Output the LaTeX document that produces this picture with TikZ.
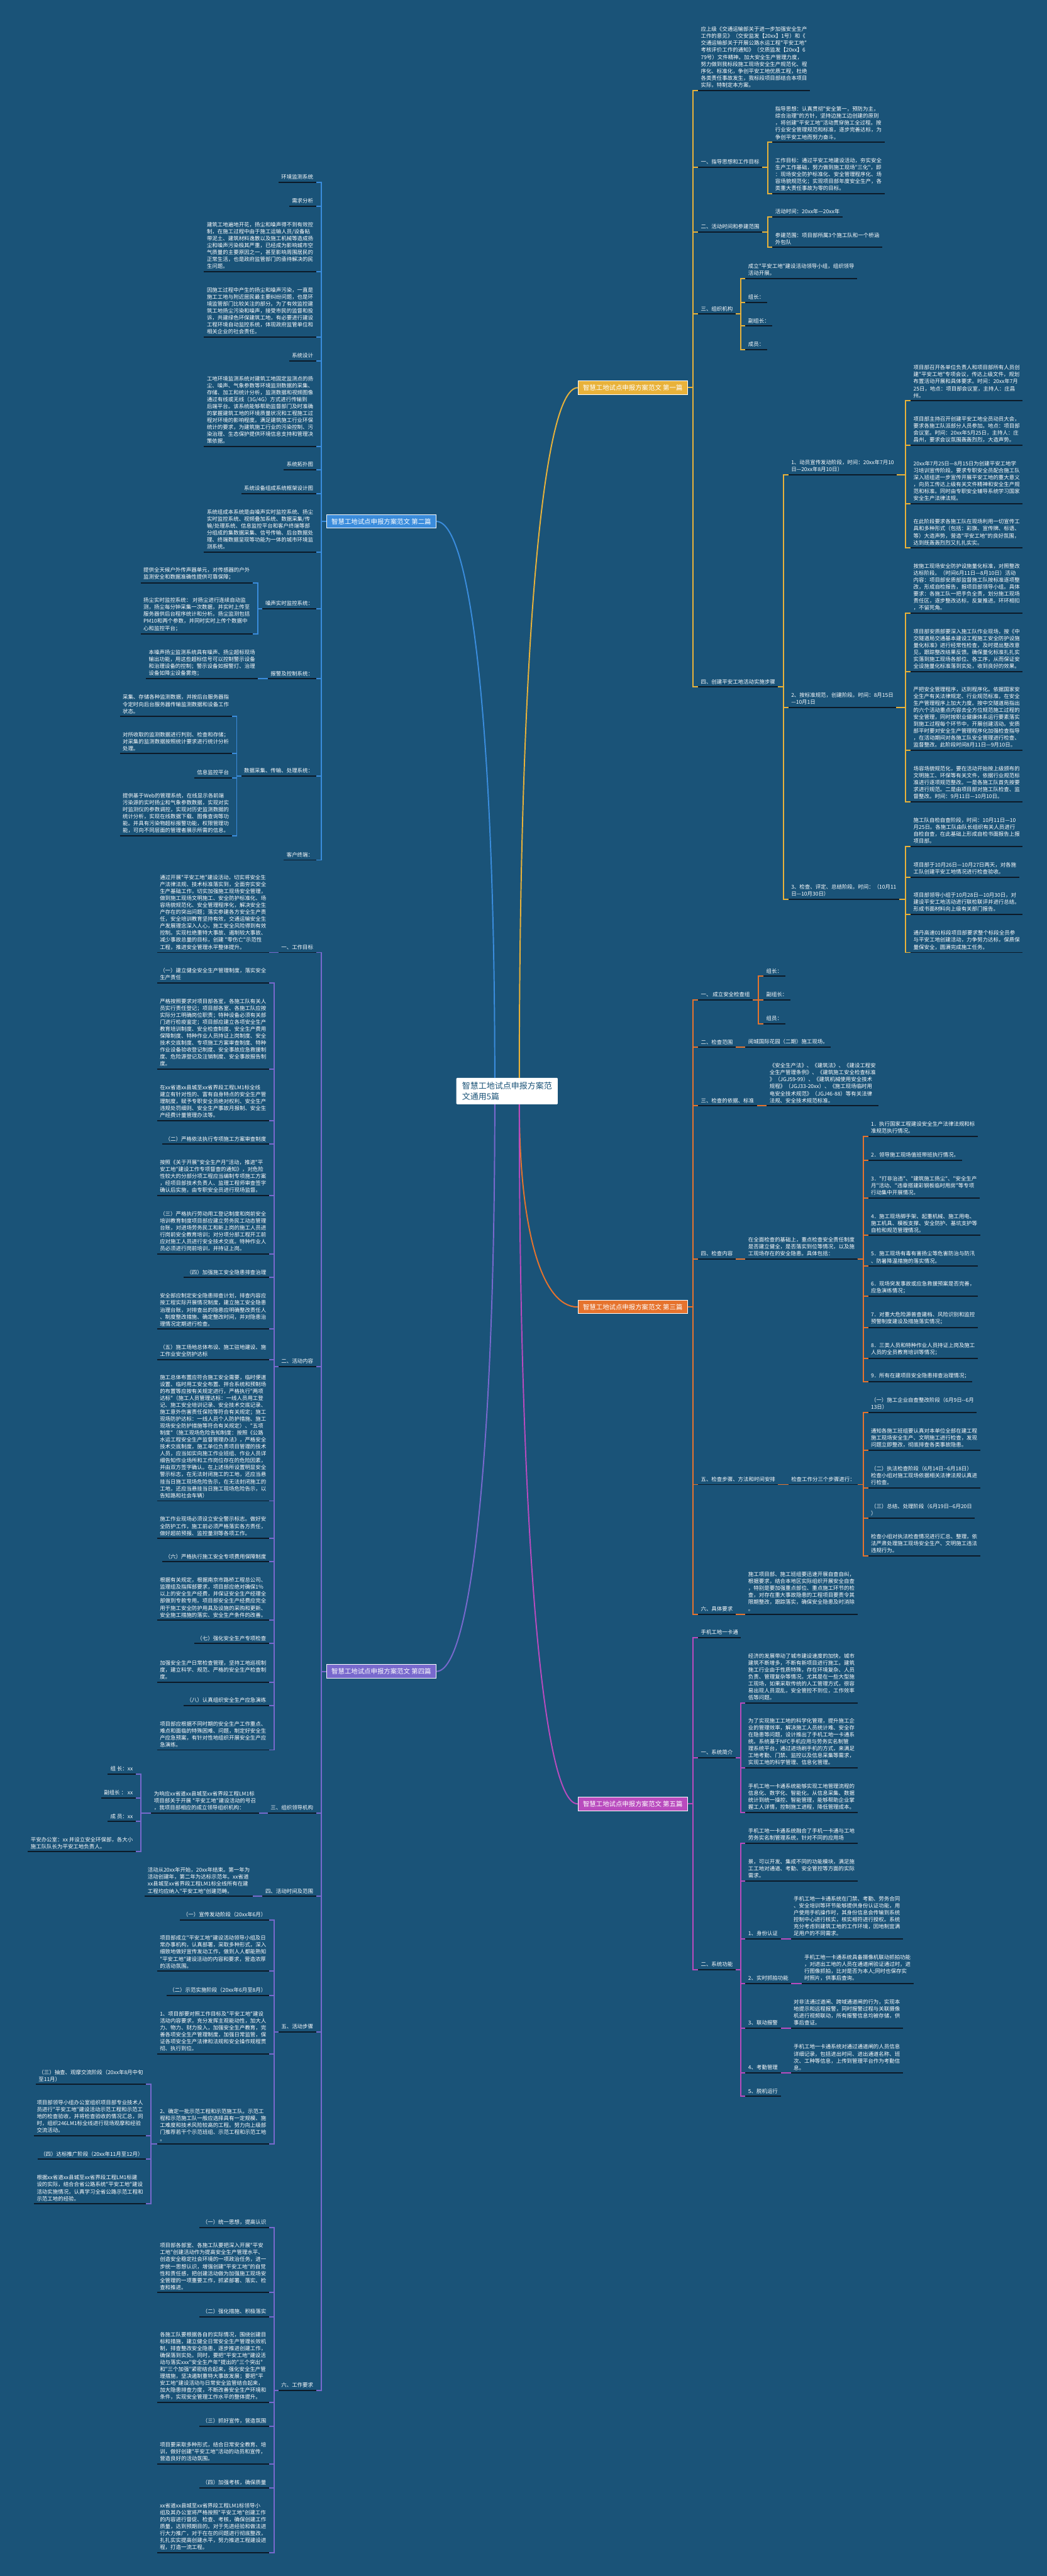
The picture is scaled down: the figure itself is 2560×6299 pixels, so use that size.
\documentclass[tikz,border=0pt]{standalone}
\usepackage{fontspec}
\newfontfamily\cjk{Noto Sans CJK SC}
\usetikzlibrary{calc}
\definecolor{bg}{RGB}{26,83,120}
\definecolor{ulc}{RGB}{12,26,40}
\definecolor{cA}{RGB}{232,178,58}
\definecolor{cB}{RGB}{58,140,220}
\definecolor{cC}{RGB}{230,115,45}
\definecolor{cD}{RGB}{120,105,205}
\definecolor{cE}{RGB}{185,75,190}
\tikzset{
  ul/.style={draw=ulc, line width=3pt},
  tx/.style={font=\cjk\fontsize{13}{17}\selectfont, text=white, align=left, inner xsep=7pt, inner ysep=7pt, outer sep=0pt,
    append after command={(\tikzlastnode.south west) edge[ul] (\tikzlastnode.south east)}},
  rnode/.style={tx, anchor=south west},
  lnode/.style={tx, anchor=south east},
  kA/.style={draw=cA, line width=3pt},
  kB/.style={draw=cB, line width=3pt},
  kC/.style={draw=cC, line width=3pt},
  kD/.style={draw=cD, line width=3pt},
  kE/.style={draw=cE, line width=3pt},
  bx/.style={font=\cjk\fontsize{16}{19}\selectfont, inner xsep=12pt, inner ysep=9pt, text=white, draw=white, line width=1.5pt},
}
\newcommand\rconn[3]{\draw[#1] (#2.south east) -| ([xshift=-12pt]#3.south west) -- (#3.south west);}
\newcommand\lconn[3]{\draw[#1] (#2.south west) -| ([xshift=12pt]#3.south east) -- (#3.south east);}
\newcommand\rbox[3]{\draw[#1] (#2.east) -| ([xshift=-13pt]#3.south west) -- (#3.south west);}
\newcommand\lbox[3]{\draw[#1] (#2.west) -| ([xshift=13pt]#3.south east) -- (#3.south east);}
\begin{document}
\begin{tikzpicture}[x=1pt,y=-1pt]
\useasboundingbox (0,0) rectangle (2560,6299);
\fill[bg] (0,0) rectangle (2560,6299);

% ---------------- centre and branch boxes
\node[font=\cjk\fontsize{20}{26}\selectfont, fill=white, text=bg, align=left, inner xsep=14pt, inner ysep=10pt, rounded corners=2pt] (cn) at (1240,2668) {智慧工地试点申报方案范\\文通用5篇};
\node[bx, fill=cA, anchor=east] (BA) at (1682,948) {智慧工地试点申报方案范文 第一篇};
\node[bx, fill=cB, anchor=west] (BB) at (798,1275) {智慧工地试点申报方案范文 第二篇};
\node[bx, fill=cC, anchor=east] (BC) at (1682,3196) {智慧工地试点申报方案范文 第三篇};
\node[bx, fill=cD, anchor=west] (BD) at (798,4087) {智慧工地试点申报方案范文 第四篇};
\node[bx, fill=cE, anchor=east] (BE) at (1682,4411) {智慧工地试点申报方案范文 第五篇};

\draw[kA] ([xshift=30pt]cn.north) .. controls +(0,-1000) and +(-90,0) .. (BA.west);
\draw[kB] ([xshift=-30pt]cn.north) .. controls +(0,-800) and +(90,0) .. (BB.east);
\draw[kC] ([xshift=30pt]cn.south) .. controls +(0,300) and +(-90,0) .. (BC.west);
\draw[kD] ([xshift=-30pt]cn.south) .. controls +(0,800) and +(90,0) .. (BD.east);
\draw[kE] ([xshift=30pt]cn.south) .. controls +(0,1000) and +(-90,0) .. (BE.west);

% ================= Branch A (第一篇)
\node[rnode] (a0) at (1707,221) {应上级《交通运输部关于进一步加强安全生产\\工作的意见》（交安监发【20xx】1号）和《\\交通运输部关于开展公路水运工程"平安工地"\\考核评价工作的通知》（交质监发【20xx】6\\79号）文件精神。加大安全生产管理力度，\\努力做到我标段施工现场安全生产规范化、程\\序化、标准化，争创平安工地优质工程，杜绝\\各类责任事故发生，我标段项目部结合本项目\\实际，特制定本方案。};
\node[rnode] (a1) at (1707,409) {一、指导思想和工作目标};
\node[rnode] (a11) at (1889,348) {指导思想：认真贯彻"安全第一，预防为主，\\综合治理"的方针，坚持边施工边创建的原则\\，将创建"平安工地"活动贯穿施工全过程。按\\行业安全管理规范和标准，逐步完善达标，为\\争创平安工地而努力奋斗。};
\node[rnode] (a12) at (1889,473) {工作目标：通过平安工地建设活动，夯实安全\\生产工作基础，努力做到施工现场"三化"，即\\：现场安全防护标准化、安全管理程序化、场\\容场貌规范化；实现项目部年度安全生产，各\\类重大责任事故为零的目标。};
\node[rnode] (a2) at (1707,567) {二、活动时间和参建范围};
\node[rnode] (a21) at (1889,530) {活动时间：20xx年—20xx年};
\node[rnode] (a22) at (1889,605) {参建范围：项目部所属3个施工队和一个桥涵\\外包队};
\node[rnode] (a3) at (1707,768) {三、组织机构};
\node[rnode] (a31) at (1823,681) {成立"平安工地"建设活动领导小组，组织领导\\活动开展。};
\node[rnode] (a32) at (1823,739) {组长：};
\node[rnode] (a33) at (1823,797) {副组长：};
\node[rnode] (a34) at (1823,855) {成员：};
\node[rnode] (a4) at (1707,1680) {四、创建平安工地活动实施步骤};
\node[rnode] (a41) at (1928,1161) {1、动员宣传发动阶段，时间：20xx年7月10\\日—20xx年8月10日）};
\node[rnode] (a411) at (2227,980) {项目部召开各单位负责人和项目部所有人员创\\建"平安工地"专项会议，传达上级文件，规划\\布置活动开展和具体要求。时间：20xx年7月\\25日，地点：项目部会议室，主持人：庄昌\\州。};
\node[rnode] (a412) at (2227,1089) {项目部主持召开创建平安工地全员动员大会，\\要求各施工队派部分人员参加。地点：项目部\\会议室。时间：20xx年5月25日，主持人：庄\\昌州，要求会议氛围轰轰烈烈，大造声势。};
\node[rnode] (a413) at (2227,1232) {20xx年7月25日—8月15日为创建平安工地学\\习培训宣传阶段。要求专职安全员配合施工队\\深入班组进一步宣传开展平安工地的重大意义\\，向员工传达上级有关文件精神和安全生产规\\范和标准。同时由专职安全辅导系统学习国家\\安全生产法律法规。};
\node[rnode] (a414) at (2227,1340) {在此阶段要求各施工队在现场利用一切宣传工\\具和多种形式（包括：彩旗、宣传牌、标语、\\等）大造声势，营造"平安工地"的良好氛围，\\达到既轰轰烈烈又扎扎实实。};
\node[rnode] (a42) at (1928,1730) {2、按标准规范，创建阶段。时间：8月15日\\—10月1日};
\node[rnode] (a421) at (2227,1500) {按施工现场安全防护设施量化标准，对照整改\\达标阶段。（时间6月11日—8月10日）活动\\内容：项目部安质部监督施工队按标准逐项整\\改，形成自检报告，报项目部领导小组。具体\\要求：各施工队一把手负全责，划分施工现场\\责任区，逐步整改达标，反复推进。环环相扣\\，不留死角。};
\node[rnode] (a422) at (2227,1643) {项目部安质部要深入施工队作业现场，按《中\\交隧道局交通基本建设工程施工安全防护设施\\量化标准》进行经常性检查，及时提出整改意\\见，跟踪整改结果反馈。确保量化标准扎扎实\\实落到施工现场各部位、各工序，从而保证安\\全设施量化标准落到实处，收到良好的效果。};
\node[rnode] (a423) at (2227,1835) {严把安全管理程序，达到程序化。依据国家安\\全生产有关法律规定、行业规范标准，在安全\\生产管理程序上加大力度。按中交隧道局指出\\的六个活动重点内容去全方位规范施工过程的\\安全管理，同时按职业健康体系运行要素落实\\到施工过程每个环节中，开展创建活动。安质\\部平时要对安全生产管理程序化加强检查指导\\，在活动期间对各施工队安全管理进行检查、\\监督整改。此阶段时间8月11日—9月10日。};
\node[rnode] (a424) at (2227,1961) {场容场貌规范化，要在活动开始按上级颁布的\\文明施工、环保等有关文件，依据行业规范标\\准进行逐项规范整改。一是各施工队首先按要\\求进行规范。二是由项目部对施工队检查、监\\督整改。时间：9月11日—10月10日。};
\node[rnode] (a43) at (1928,2199) {3、检查、评定、总结阶段。时间：（10月11\\日—10月30日）};
\node[rnode] (a431) at (2227,2070) {施工队自检自查阶段，时间：10月11日—10\\月25日。各施工队由队长组织有关人员进行\\自检自查，在此基础上形成自检书面报告上报\\项目部。};
\node[rnode] (a432) at (2227,2145) {项目部于10月26日—10月27日两天，对各施\\工队创建平安工地情况进行检查验收。};
\node[rnode] (a433) at (2227,2236) {项目部领导小组于10月28日—10月30日，对\\建设平安工地活动进行联检联评并进行总结。\\形成书面材料向上级有关部门报告。};
\node[rnode] (a434) at (2227,2329) {通丹高速01标段项目部要求整个标段全员参\\与平安工地创建活动，力争努力达标，保质保\\量保安全，圆满完成施工任务。};

\foreach \c in {a0,a1,a2,a3,a4} {\rbox{kA}{BA}{\c}}
\foreach \c in {a11,a12} {\rconn{kA}{a1}{\c}}
\foreach \c in {a21,a22} {\rconn{kA}{a2}{\c}}
\foreach \c in {a31,a32,a33,a34} {\rconn{kA}{a3}{\c}}
\foreach \c in {a41,a42,a43} {\rconn{kA}{a4}{\c}}
\foreach \c in {a411,a412,a413,a414} {\rconn{kA}{a41}{\c}}
\foreach \c in {a421,a422,a423,a424} {\rconn{kA}{a42}{\c}}
\foreach \c in {a431,a432,a433,a434} {\rconn{kA}{a43}{\c}}

% ================= Branch C (第三篇)
\node[rnode] (c1) at (1707,2445) {一、 成立安全检查组};
\node[rnode] (c11) at (1867,2387) {组长：};
\node[rnode] (c12) at (1867,2445) {副组长：};
\node[rnode] (c13) at (1867,2503) {组员：};
\node[rnode] (c2) at (1707,2561) {二、检查范围};
\node[rnode] (c21) at (1823,2561) {阅城国际花园（二期）施工现场。};
\node[rnode] (c3) at (1707,2704) {三、检查的依据、标准};
\node[rnode] (c31) at (1875,2704) {《安全生产法》、《建筑法》、《建设工程安\\全生产管理条例》、《建筑施工安全检查标准\\》（JGJ59-99）、《建筑机械使用安全技术\\规程》（JGJ33-20xx）、《施工现场临时用\\电安全技术规范》（JGJ46-88）等有关法律\\法规、安全技术规范标准。};
\node[rnode] (c4) at (1707,3079) {四、检查内容};
\node[rnode] (c41) at (1823,3079) {在全面检查的基础上，重点检查安全责任制度\\是否建立健全，是否落实到位等情况，以及施\\工现场存在的安全隐患。具体包括：};
\node[rnode] (c411) at (2123,2779) {1．执行国家工程建设安全生产法律法规和标\\准规范执行情况。};
\node[rnode] (c412) at (2123,2837) {2．领导施工现场值班带班执行情况。};
\node[rnode] (c413) at (2123,2929) {3．"打非治违"、"建筑施工扬尘"、"安全生产\\月"活动、"违章搭建彩钢板临时用房"等专项\\行动集中开展情况。};
\node[rnode] (c414) at (2123,3021) {4．施工现场脚手架、起重机械、施工用电、\\施工机具、模板支撑、安全防护、基坑支护等\\自检和规范管理情况。};
\node[rnode] (c415) at (2123,3096) {5．施工现场有毒有害扬尘等危害防治与防汛\\、防暑降温措施的落实情况。};
\node[rnode] (c416) at (2123,3170) {6．现场突发事故或应急救援预案是否完善，\\应急演练情况；};
\node[rnode] (c417) at (2123,3246) {7．对重大危险源普查建档、风险识别和监控\\预警制度建设及措施落实情况；};
\node[rnode] (c418) at (2123,3321) {8．三类人员和特种作业人员持证上岗及施工\\人员的全员教育培训等情况；};
\node[rnode] (c419) at (2123,3378) {9．所有在建项目安全隐患排查治理情况；};
\node[rnode] (c5) at (1707,3630) {五、检查步骤、方法和时间安排};
\node[rnode] (c51) at (1928,3630) {检查工作分三个步骤进行：};
\node[rnode] (c511) at (2123,3454) {（一）施工企业自查整改阶段（6月9日--6月\\13日）};
\node[rnode] (c512) at (2123,3546) {通知各施工班组要认真对本单位全部在建工程\\施工现场安全生产、文明施工进行检查，发现\\问题立即整改，彻底排查各类事故隐患。};
\node[rnode] (c513) at (2123,3638) {（二）执法检查阶段（6月14日--6月18日）\\检查小组对施工现场依据相关法律法规认真进\\行检查。};
\node[rnode] (c514) at (2123,3713) {（三）总结、处理阶段（6月19日--6月20日\\）};
\node[rnode] (c515) at (2123,3804) {检查小组对执法检查情况进行汇总、整理，依\\法严肃处理施工现场安全生产、文明施工违法\\违规行为。};
\node[rnode] (c6) at (1707,3947) {六、具体要求};
\node[rnode] (c61) at (1823,3947) {施工项目部、施工班组要迅速开展自查自纠，\\根据要求，结合本地区实际组织开展安全自查\\，特别是要加强重点部位、重点施工环节的检\\查，对存在重大事故隐患的工程项目要责令其\\限期整改，跟踪落实，确保安全隐患及时消除\\。};

\foreach \c in {c1,c2,c3,c4,c5,c6} {\rbox{kC}{BC}{\c}}
\foreach \c in {c11,c12,c13} {\rconn{kC}{c1}{\c}}
\rconn{kC}{c2}{c21}
\rconn{kC}{c3}{c31}
\rconn{kC}{c4}{c41}
\foreach \c in {c411,c412,c413,c414,c415,c416,c417,c418,c419} {\rconn{kC}{c41}{\c}}
\rconn{kC}{c5}{c51}
\foreach \c in {c511,c512,c513,c514,c515} {\rconn{kC}{c51}{\c}}
\rconn{kC}{c6}{c61}

% ================= Branch E (第五篇)
\node[rnode] (e1) at (1707,4004) {手机工地一卡通};
\node[rnode] (e2) at (1707,4298) {一、系统简介};
\node[rnode] (e21) at (1823,4164) {经济的发展带动了城市建设速度的加快，城市\\建筑不断增多，不断有新项目进行施工。建筑\\施工行业由于性质特殊，存在环境复杂、人员\\负责、管理复杂等情况。尤其是在一些大型施\\工现场，如果采取传统的人工管理方式，很容\\易出现人员混乱，安全管控不到位，工作效率\\低等问题。};
\node[rnode] (e22) at (1823,4323) {为了实现施工工地的科学化管理，提升施工企\\业的管理效率，解决施工人员统计难、安全存\\在隐患等问题，设计推出了手机工地一卡通系\\统。系统基于NFC手机应用与劳务实名制管\\理系统平台，通过进场刷手机的方式，来满足\\工地考勤、门禁、监控以及信息采集等需求，\\实现工地的科学管理、信息化管理。};
\node[rnode] (e23) at (1823,4432) {手机工地一卡通系统能够实现工地管理流程的\\信息化、数字化、智能化，从信息采集、数据\\统计到统一操控、智能管理，能够帮助企业掌\\握工人详情，控制施工进程，降低管理成本。};
\node[rnode] (e3) at (1707,4816) {二、系统功能};
\node[rnode] (e31) at (1823,4508) {手机工地一卡通系统融合了手机一卡通与工地\\劳务实名制管理系统，针对不同的应用场};
\node[rnode] (e32) at (1823,4599) {景，可以开发、集成不同的功能模块，满足施\\工工地对通道、考勤、安全管控等方面的实际\\需求。};
\node[rnode] (e33) at (1823,4741) {1、身份认证};
\node[rnode] (e331) at (1934,4741) {手机工地一卡通系统在门禁、考勤、劳务合同\\、安全培训等环节能够提供身份认证功能，用\\户使用手机操作时，其身份信息会传输到系统\\控制中心进行核实，核实相符进行授权。系统\\充分考虑到建筑工地的工作环境，因地制宜满\\足用户的不同需求。};
\node[rnode] (e34) at (1823,4850) {2、实时抓拍功能};
\node[rnode] (e341) at (1960,4850) {手机工地一卡通系统具备摄像机联动抓拍功能\\，对进出工地的人员在通道闸验证通过时，进\\行图像抓拍，比对是否为本人;同时也保存实\\时照片，供事后查询。};
\node[rnode] (e35) at (1823,4959) {3、联动报警};
\node[rnode] (e351) at (1934,4959) {对非法通过道闸、跨域通道闸的行为，实现本\\地提示和远程报警，同时报警过程与关联摄像\\机进行视频联动，所有报警信息均被存储，供\\事后查证。};
\node[rnode] (e36) at (1823,5069) {4、考勤管理};
\node[rnode] (e361) at (1934,5069) {手机工地一卡通系统对通过通道闸的人员信息\\详细记录，包括进出时间、进出通道名称、班\\次、工种等信息，上传到管理平台作为考勤信\\息。};
\node[rnode] (e37) at (1823,5126) {5、脱机运行};

\foreach \c in {e1,e2,e3} {\rbox{kE}{BE}{\c}}
\foreach \c in {e21,e22,e23} {\rconn{kE}{e2}{\c}}
\foreach \c in {e31,e32,e33,e34,e35,e36,e37} {\rconn{kE}{e3}{\c}}
\rconn{kE}{e33}{e331}
\rconn{kE}{e34}{e341}
\rconn{kE}{e35}{e351}
\rconn{kE}{e36}{e361}

% ================= Branch B (第二篇)
\node[lnode] (b1) at (773,446) {环境监测系统};
\node[lnode] (b2) at (773,504) {需求分析};
\node[lnode] (b3) at (773,664) {建筑工地遍地开花，扬尘和噪声得不到有效控\\制，在施工过程中由于施工运输人员/设备粘\\带泥土、建筑材料逸散以及施工机械等造成扬\\尘和噪声污染极其严重，已经成为影响城市空\\气质量的主要原因之一，甚至影响周围居民的\\正常生活，也是政府监管部门的亟待解决的民\\生问题。};
\node[lnode] (b4) at (773,824) {因施工过程中产生的扬尘和噪声污染，一直是\\施工工地与附近居民最主要纠纷问题，也是环\\境监管部门比较关注的部分。为了有效监控建\\筑工地扬尘污染和噪声，接受市民的监督和投\\诉，共建绿色环保建筑工地，有必要进行建设\\工程环境自动监控系统，体现政府监管单位和\\相关企业的社会责任。};
\node[lnode] (b5) at (773,882) {系统设计};
\node[lnode] (b6) at (773,1092) {工地环境监测系统对建筑工地固定监测点的扬\\尘、噪声、气象参数等环境监测数据的采集、\\存储、加工和统计分析，监测数据和视频图像\\通过有线或无线（3G/4G）方式进行传输到\\后端平台。该系统能够帮助监督部门及时准确\\的掌握建筑工地的环境质量状况和工程施工过\\程对环境的影响程度。满足建筑施工行业环保\\统计的要求，为建筑施工行业的污染控制、污\\染治理、生态保护提供环境信息支持和管理决\\策依据。};
\node[lnode] (b7) at (773,1149) {系统拓扑图};
\node[lnode] (b8) at (773,1207) {系统设备组成系统框架设计图};
\node[lnode] (b9) at (773,1350) {系统组成本系统是由噪声实时监控系统、扬尘\\实时监控系统、视频叠加系统、数据采集/传\\输/处理系统、信息监控平台和客户终端等部\\分组成的集数据采集、信号传输、后台数据处\\理、终端数据呈现等功能为一体的城市环境监\\测系统。};
\node[lnode] (b10) at (773,1488) {噪声实时监控系统：};
\node[lnode] (b101) at (618,1425) {提供全天候户外传声器单元，对传感器的户外\\监测安全和数据准确性提供可靠保障；};
\node[lnode] (b102) at (618,1550) {扬尘实时监控系统： 对扬尘进行连续自动监\\测，扬尘每分钟采集一次数据，并实时上传至\\服务器供后台程序统计和分析。扬尘监测包括\\PM10和两个参数，并同时实时上传个数据中\\心和监控平台；};
\node[lnode] (b11) at (773,1660) {报警及控制系统：};
\node[lnode] (b111) at (631,1660) {本噪声扬尘监测系统具有噪声、扬尘超标现场\\输出功能，用这些超标信号可以控制警示设备\\和治理设备的控制；警示设备如报警灯、治理\\设备如降尘设备雾炮；};
\node[lnode] (b12) at (773,1898) {数据采集、传输、处理系统：};
\node[lnode] (b121) at (567,1752) {采集、存储各种监测数据，并按后台服务器指\\令定时向后台服务器传输监测数据和设备工作\\状态。};
\node[lnode] (b122) at (567,1843) {对所收取的监测数据进行判别、检查和存储；\\对采集的监测数据按照统计要求进行统计分析\\处理。};
\node[lnode] (b123) at (567,1902) {信息监控平台};
\node[lnode] (b124) at (567,2044) {提供基于Web的管理系统，在线显示各前端\\污染源的实时扬尘和气象参数数据，实现对实\\时监测仪的参数调控，实现对历史监测数据的\\统计分析，实现在线数据下载、图像查询等功\\能。并具有污染物超标报警功能，权限管理功\\能，可向不同层面的管理者展示所需的信息。};
\node[lnode] (b13) at (773,2103) {客户终端：};

\foreach \c in {b1,b2,b3,b4,b5,b6,b7,b8,b9,b10,b11,b12,b13} {\lbox{kB}{BB}{\c}}
\foreach \c in {b101,b102} {\lconn{kB}{b10}{\c}}
\lconn{kB}{b11}{b111}
\foreach \c in {b121,b122,b123,b124} {\lconn{kB}{b12}{\c}}

% ================= Branch D (第四篇)
\node[lnode] (d1) at (773,2329) {一、工作目标};
\node[lnode] (d11) at (658,2329) {通过开展"平安工地"建设活动，切实将安全生\\产法律法规、技术标准落实到，全面夯实安全\\生产基础工作，切实加强施工现场安全管理，\\做到施工现场文明施工、安全防护标准化、场\\容场貌规范化、安全管理程序化，解决安全生\\产存在的突出问题；落实参建各方安全生产责\\任，安全培训教育坚持有效，交通运输安全生\\产发展理念深入人心，施工安全风险得到有效\\控制。实现杜绝重特大事故、遏制较大事故、\\减少事故总量的目标，创建 "零伤亡"示范性\\工程，推进安全管理水平整体提升。};
\node[lnode] (d2) at (773,3342) {二、活动内容};
\node[lnode] (d21) at (658,2404) {（一）建立健全安全生产管理制度，落实安全\\生产责任};
\node[lnode] (d22) at (658,2614) {严格按照要求对项目部各室，各施工队有关人\\员实行责任登记；项目部各室、各施工队应按\\实际分工明确岗位职责；特种设备必须有关部\\门进行检疫鉴定；项目部应建立各项安全生产\\教育培训制度、安全检查制度、安全生产费用\\保障制度、特种作业人员持证上岗制度、安全\\技术交底制度、专项施工方案审查制度、特种\\作业设备验收登记制度、安全事故应急救援制\\度、危险源登记及注销制度、安全事故报告制\\度。};
\node[lnode] (d23) at (658,2740) {在xx省道xx县城至xx省界段工程LM1标全线\\建立有针对性的、富有自身特点的安全生产管\\理制度，赋予专职安全员绝对权利、安全生产\\违规处罚细则、安全生产事故月报制、安全生\\产经费计量管理办法等。};
\node[lnode] (d24) at (658,2798) {（二）严格依法执行专项施工方案审查制度};
\node[lnode] (d25) at (658,2923) {按照《关于开展"安全生产月"活动，推进"平\\安工地"建设工作专项督查的通知》，对危险\\性较大的分部分项工程应当编制专项施工方案\\，经项目部技术负责人、监理工程师审查签字\\确认后实施，由专职安全员进行现场监督。};
\node[lnode] (d26) at (658,3066) {（三）严格执行劳动用工登记制度和岗前安全\\培训教育制度项目部应建立劳务民工动态管理\\台账，对进场劳务民工和新上岗的施工人员进\\行岗前安全教育培训；对分项分部工程开工前\\应对施工人员进行安全技术交底。特种作业人\\员必须进行岗前培训，并持证上岗。};
\node[lnode] (d27) at (658,3124) {（四）加强施工安全隐患排查治理};
\node[lnode] (d28) at (658,3250) {安全部应制定安全隐患排查计划，排查内容应\\按工程实际开展情况制度，建立施工安全隐患\\治理台账，对排查出的隐患应明确整改责任人\\、制度整改措施、确定整改时间，并对隐患治\\理情况定期进行检查。};
\node[lnode] (d29) at (658,3325) {（五）施工场地总体布设、施工驻地建设、施\\工作业安全防护达标};
\node[lnode] (d2a) at (658,3670) {施工总体布置应符合施工安全需要，临时便道\\设置、临时用工安全布置、拌合系统和预制场\\的布置等应按有关规定进行，严格执行"两项\\达标"（施工人员管理达标：一线人员用工登\\记、施工安全培训记录、安全技术交底记录、\\施工意外伤害责任保险等符合有关规定；施工\\现场防护达标：一线人员个人防护措施、施工\\现场安全防护措施等符合有关规定）、"五项\\制度"（施工现场危险告知制度：按照《公路\\水运工程安全生产监督管理办法》，严格安全\\技术交底制度，施工单位负责项目管理的技术\\人员，应当如实向施工作业班组、作业人员详\\细告知作业场所和工作岗位存在的危险因素，\\并由双方签字确认。在上述场所设置明显安全\\警示标志，在无法封闭施工的工地，还应当悬\\挂当日施工现场危险告示，在无法封闭施工的\\工地，还应当悬挂当日施工现场危险告示，以\\告知路和社会车辆）};
\node[lnode] (d2b) at (658,3762) {施工作业现场必须设立安全警示标志。做好安\\全防护工作，施工前必须严格落实各方责任，\\做好超前预报、监控量测等各项工作。};
\node[lnode] (d2c) at (658,3819) {（六）严格执行施工安全专项费用保障制度};
\node[lnode] (d2d) at (658,3962) {根据有关规定，根据南京市路桥工程总公司、\\监理组及指挥部要求，项目部应绝对确保1\%\\以上的安全生产经费，并保证安全生产经理全\\部做到专款专用。项目部安全生产经费应完全\\用于施工安全防护用具及设施的采购和更新、\\安全施工措施的落实、安全生产条件的改善。};
\node[lnode] (d2e) at (658,4019) {（七）强化安全生产专项检查};
\node[lnode] (d2f) at (658,4113) {加强安全生产日常检查管理，坚持工地巡视制\\度，建立科学、规范、严格的安全生产检查制\\度。};
\node[lnode] (d2g) at (658,4170) {（八）认真组织安全生产应急演练};
\node[lnode] (d2h) at (658,4279) {项目部应根据不同时期的安全生产工作重点、\\难点和面临的特殊困难、问题，制定好安全生\\产应急预案，有针对性地组织开展安全生产应\\急演练。};
\node[lnode] (d3) at (773,4433) {三、组织领导机构};
\node[lnode] (d31) at (633,4433) {为响应xx省道xx县城至xx省界段工程LM1标\\项目部关于开展 "平安工地"建设活动的号召\\，我项目部相应的成立领导组织机构：};
\node[lnode] (d311) at (332,4338) {组 长：xx};
\node[lnode] (d312) at (332,4396) {副组长 ： xx};
\node[lnode] (d313) at (332,4454) {成 员：xx};
\node[lnode] (d314) at (332,4528) {平安办公室：xx 并设立安全环保部，各大小\\施工队队长为平安工地负责人。};
\node[lnode] (d4) at (773,4637) {四、活动时间及范围};
\node[lnode] (d41) at (618,4637) {活动从20xx年开始，20xx年结束。第一年为\\活动创建年，第二年为达标示范年。xx省道\\xx县城至xx省界段工程LM1标全线所有在建\\工程均应纳入"平安工地"创建范畴。};
\node[lnode] (d5) at (773,4969) {五、活动步骤};
\node[lnode] (d51) at (658,4695) {（一）宣传发动阶段（20xx年6月）};
\node[lnode] (d52) at (658,4820) {项目部成立"平安工地"建设活动领导小组及日\\常办事机构，认真部署，采取多种形式，深入\\细致地做好宣传发动工作，做到人人都能熟知\\"平安工地"建设活动的内容和要求，营造浓厚\\的活动氛围。};
\node[lnode] (d53) at (658,4879) {（二）示范实施阶段（20xx年6月至8月）};
\node[lnode] (d54) at (658,5022) {1、项目部要对照工作目标及"平安工地"建设\\活动内容要求，充分发挥主观能动性，加大人\\力、物力、财力投入，加强安全生产教育，完\\善各项安全生产管理制度，加强日常监管，保\\证各项安全生产法律和法规和安全操作规程贯\\彻、执行到位。};
\node[lnode] (d55) at (658,5243) {2、确定一批示范工程和示范施工队。示范工\\程和示范施工队一般应选择具有一定规模、施\\工难度和技术风险较高的工程。努力向上级部\\门推荐若干个示范班组、示范工程和示范工地\\。};
\node[lnode] (d551) at (357,5097) {（三）抽查、观摩交流阶段（20xx年8月中旬\\至11月）};
\node[lnode] (d552) at (357,5222) {项目部领导小组办公室组织项目部专业技术人\\员进行"平安工地"建设活动示范工程和示范工\\地的检查验收，并将检查验收的情况汇总，同\\时，组织246LM1标全线进行现场观摩和经验\\交流活动。};
\node[lnode] (d553) at (357,5280) {（四）达标推广阶段（20xx年11月至12月）};
\node[lnode] (d554) at (357,5389) {根据xx省道xx县城至xx省界段工程LM1标建\\设的实际，结合合省公路系统"平安工地"建设\\活动实施情况，认真学习全省公路示范工程和\\示范工地的经验。};
\node[lnode] (d6) at (773,5845) {六、工作要求};
\node[lnode] (d61) at (658,5447) {（一）统一思想，提高认识};
\node[lnode] (d62) at (658,5606) {项目部各部室、各施工队要把深入开展"平安\\工地"创建活动作为提高安全生产管理水平、\\创造安全稳定社会环境的一项政治任务，进一\\步统一思想认识，增强创建"平安工地"的自觉\\性和责任感，把创建活动做为加强施工现场安\\全管理的一项重要工作，抓紧部署、落实、检\\查和推进。};
\node[lnode] (d63) at (658,5665) {（二）强化措施、积极落实};
\node[lnode] (d64) at (658,5875) {各施工队要根据各自的实际情况，围绕创建目\\标和措施，建立健全日常安全生产管理长效机\\制，排查整改安全隐患，逐步推进创建工作，\\确保落到实处。同时，要把"平安工地"建设活\\动与落实xxx"安全生产年"提出的"三个突出"\\和"三个加强"紧密结合起来，强化安全生产管\\理措施，坚决遏制重特大事故发展；要把"平\\安工地"建设活动与日常安全监管结合起来，\\加大隐患排查力度，不断改善安全生产环境和\\条件，实现安全管理工作水平的整体提升。};
\node[lnode] (d65) at (658,5933) {（三）抓好宣传，营造氛围};
\node[lnode] (d66) at (658,6025) {项目要采取多种形式，结合日常安全教育、培\\训，做好创建"平安工地"活动的动员和宣传，\\营造良好的活动氛围。};
\node[lnode] (d67) at (658,6083) {（四）加强考核，确保质量};
\node[lnode] (d68) at (658,6242) {xx省道xx县城至xx省界段工程LM1标领导小\\组及其办公室将严格按照"平安工地"创建工作\\的内容进行督促、检查、考核，确保创建工作\\质量，达到预期目的。对于先进经验和做法进\\行大力推广，对于在在的问题进行彻底整改，\\扎扎实实提高创建水平，努力推进工程建设进\\程，打造一流工程。};

\foreach \c in {d1,d2,d3,d4,d5,d6} {\lbox{kD}{BD}{\c}}
\lconn{kD}{d1}{d11}
\foreach \c in {d21,d22,d23,d24,d25,d26,d27,d28,d29,d2a,d2b,d2c,d2d,d2e,d2f,d2g,d2h} {\lconn{kD}{d2}{\c}}
\lconn{kD}{d3}{d31}
\foreach \c in {d311,d312,d313,d314} {\lconn{kD}{d31}{\c}}
\lconn{kD}{d4}{d41}
\foreach \c in {d51,d52,d53,d54,d55} {\lconn{kD}{d5}{\c}}
\foreach \c in {d551,d552,d553,d554} {\lconn{kD}{d55}{\c}}
\foreach \c in {d61,d62,d63,d64,d65,d66,d67,d68} {\lconn{kD}{d6}{\c}}
\end{tikzpicture}
\end{document}
